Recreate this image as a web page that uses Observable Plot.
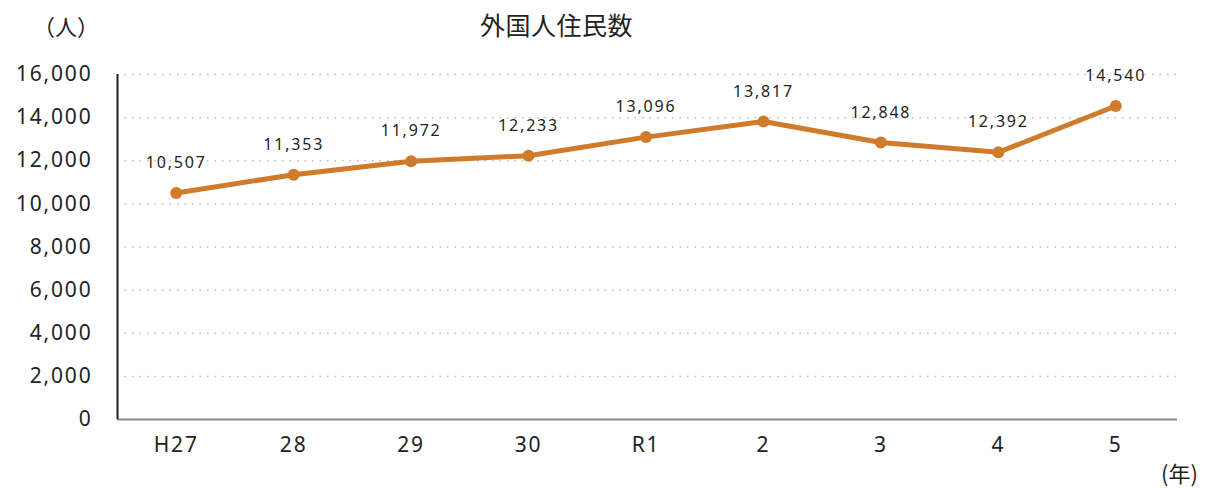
<!DOCTYPE html>
<html><head><meta charset="utf-8">
<script src="https://cdn.jsdelivr.net/npm/d3@7"></script>
<script src="https://cdn.jsdelivr.net/npm/@observablehq/plot@0.6"></script>
<style>
body{margin:0;background:#fff;font-family:"Noto Sans","Noto Sans CJK JP",sans-serif;}
#wrap{position:relative;width:1205px;height:488px;}
.lbl{position:absolute;color:#231f20;white-space:nowrap;font-family:"Noto Sans CJK JP",sans-serif;}
</style></head>
<body><div id="wrap"></div>
<script>
const years = ["H27","28","29","30","R1","2","3","4","5"];
const residents = [10507,11353,11972,12233,13096,13817,12848,12392,14540];
const yTicks = [0,2000,4000,6000,8000,10000,12000,14000,16000];
const title = "外国人住民数";
const yUnit = "（人）";
const xUnit = "(年)";

const data = years.map((y,i)=>({year:y,value:residents[i]}));
const color = "#D07A2B";
const fmt = d3.format(",");

const chart = Plot.plot({
  width:1205, height:488,
  marginLeft:117, marginRight:31, marginTop:74, marginBottom:69,
  style:{fontFamily:'"Noto Sans","Noto Sans CJK JP",sans-serif', color:"#231f20", background:"#fff", letterSpacing:"1.8px"},
  x:{type:"point", domain:years, padding:0.5, round:false, label:null},
  y:{domain:[0,16000], label:null},
  marks:[
    Plot.ruleY(yTicks.filter(d=>d>0), {stroke:"#bbb", strokeDasharray:"1.5,6", strokeWidth:1.5, insetRight:-3}),
    Plot.ruleY([0], {stroke:"#888", strokeWidth:2, insetRight:-3}),
    Plot.ruleX([years[0]], {stroke:"#231f20", strokeWidth:2, dx:-58.7, y1:0, y2:16000}),
    Plot.axisY({ticks:yTicks, tickFormat:fmt, tickSize:0, tickPadding:25, fontSize:21, label:null}),
    Plot.axisX({tickSize:0, tickPadding:18, fontSize:21, label:null}),
    Plot.line(data, {x:"year", y:"value", stroke:color, strokeWidth:5}),
    Plot.dot(data, {x:"year", y:"value", fill:color, r:6}),
    Plot.text(data, {x:"year", y:"value", text:d=>fmt(d.value), dy:-30, fontSize:16, fill:"#231f20"})
  ]
});
const wrap = document.getElementById("wrap");
wrap.appendChild(chart);
function add(t,x,y,size,ls){const d=document.createElement("div");d.className="lbl";d.textContent=t;d.style.left=x+"px";d.style.top=y+"px";d.style.fontSize=size+"px";if(ls)d.style.letterSpacing=ls;wrap.appendChild(d);}
add(title,480,6,25,"0.5px");
add(yUnit,33,9,22);
add(xUnit,1161,456,22);
</script></body></html>
